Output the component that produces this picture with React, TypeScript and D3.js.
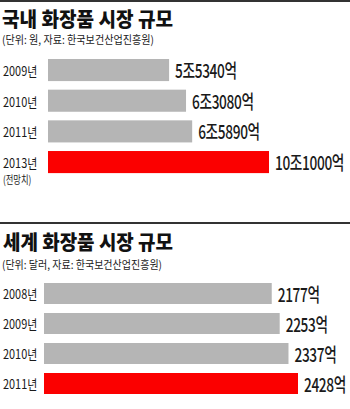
import React from "react";
import * as d3 from "d3";

const domYears = ["2009년", "2010년", "2011년", "2013년"];
const domValues = [55340, 63080, 65890, 101000]; // 억 원
const domHighlight = [false, false, false, true];
const domNote = ["", "", "", "(전망치)"];

const worldYears = ["2008년", "2009년", "2010년", "2011년"];
const worldValues = [2177, 2253, 2337, 2428]; // 억 달러
const worldHighlight = [false, false, false, true];

const titles = ["국내 화장품 시장 규모", "세계 화장품 시장 규모"];
const subtitles = [
  "(단위: 원, 자료: 한국보건산업진흥원)",
  "(단위: 달러, 자료: 한국보건산업진흥원)",
];

const FONT = "'Noto Sans CJK KR', 'Noto Sans', sans-serif";
const GRAY = "#b5b5b5";
const RED = "#fb0000";
const TEXT = "#1a1a1a";

const fmtDom = (v: number) => `${Math.floor(v / 10000)}조${v % 10000}억`;
const fmtWorld = (v: number) => `${v}억`;

function Panel(props: {
  years: string[];
  values: number[];
  highlight: boolean[];
  notes?: string[];
  fmt: (v: number) => string;
  x0: number;
  x1: number;
  yRange: [number, number];
  pad: [number, number];
}) {
  const { years, values, highlight, notes, fmt, x0, x1, yRange, pad } = props;
  const x = d3.scaleLinear().domain([0, d3.max(values)!]).range([x0, x1]);
  const y = d3
    .scaleBand<string>()
    .domain(years)
    .range(yRange)
    .paddingInner(pad[0])
    .paddingOuter(pad[1]);
  return (
    <g>
      {years.map((yr, i) => {
        const yy = y(yr)!;
        const bw = y.bandwidth();
        const cy = yy + bw / 2;
        const label = fmt(values[i]);
        return (
          <g key={yr}>
            <rect
              x={x(0)}
              y={yy}
              width={x(values[i]) - x(0)}
              height={bw}
              fill={highlight[i] ? RED : GRAY}
            />
            <text
              transform={`translate(3,${cy}) scale(0.84,1)`}
              dominantBaseline="central"
              fontSize={13}
              fill={TEXT}
              style={{ fontFamily: FONT }}
            >
              {yr}
            </text>
            {notes && notes[i] ? (
              <text
                transform={`translate(3,${cy + 17}) scale(0.75,1)`}
                dominantBaseline="central"
                fontSize={11}
                fill={TEXT}
                style={{ fontFamily: FONT }}
              >
                {notes[i]}
              </text>
            ) : null}
            <text
              transform={`translate(${x(values[i]) + 6},${cy}) scale(0.72,1)`}
              dominantBaseline="central"
              fontSize={19}
              fontWeight={500}
              fill={TEXT}
              letterSpacing={-0.5}
              style={{ fontFamily: FONT }}
            >
              {label}
            </text>
          </g>
        );
      })}
    </g>
  );
}

export default function App() {
  return (
    <svg
      width={350}
      height={409}
      style={{ position: "absolute", left: 0, top: 0, background: "#fff", fontFamily: FONT }}
    >
      <rect x={0} y={0} width={350} height={409} fill="#fff" />
      <rect x={0} y={0} width={350} height={2} fill="#333" />
      <text
        x={2}
        y={18.5}
        dominantBaseline="central"
        fontSize={20}
        fontWeight={900}
        fill="#111"
        textLength={171}
        lengthAdjust="spacingAndGlyphs"
        style={{ fontFamily: FONT }}
      >
        {titles[0]}
      </text>
      <text
        x={2}
        y={39}
        dominantBaseline="central"
        fontSize={11}
        fill={TEXT}
        textLength={152}
        lengthAdjust="spacingAndGlyphs"
        style={{ fontFamily: FONT }}
      >
        {subtitles[0]}
      </text>
      <Panel
        years={domYears}
        values={domValues}
        highlight={domHighlight}
        notes={domNote}
        fmt={fmtDom}
        x0={48}
        x1={269}
        yRange={[54.7, 177.4]}
        pad={[0.28, 0.14]}
      />

      <rect x={0} y={222} width={350} height={2} fill="#333" />
      <text
        x={3}
        y={241}
        dominantBaseline="central"
        fontSize={20}
        fontWeight={900}
        fill="#111"
        textLength={170}
        lengthAdjust="spacingAndGlyphs"
        style={{ fontFamily: FONT }}
      >
        {titles[1]}
      </text>
      <text
        x={2}
        y={263.5}
        dominantBaseline="central"
        fontSize={11}
        fill={TEXT}
        textLength={160}
        lengthAdjust="spacingAndGlyphs"
        style={{ fontFamily: FONT }}
      >
        {subtitles[1]}
      </text>
      <Panel
        years={worldYears}
        values={worldValues}
        highlight={worldHighlight}
        fmt={fmtWorld}
        x0={44}
        x1={298}
        yRange={[278.5, 398.5]}
        pad={[0.3, 0.15]}
      />
    </svg>
  );
}
